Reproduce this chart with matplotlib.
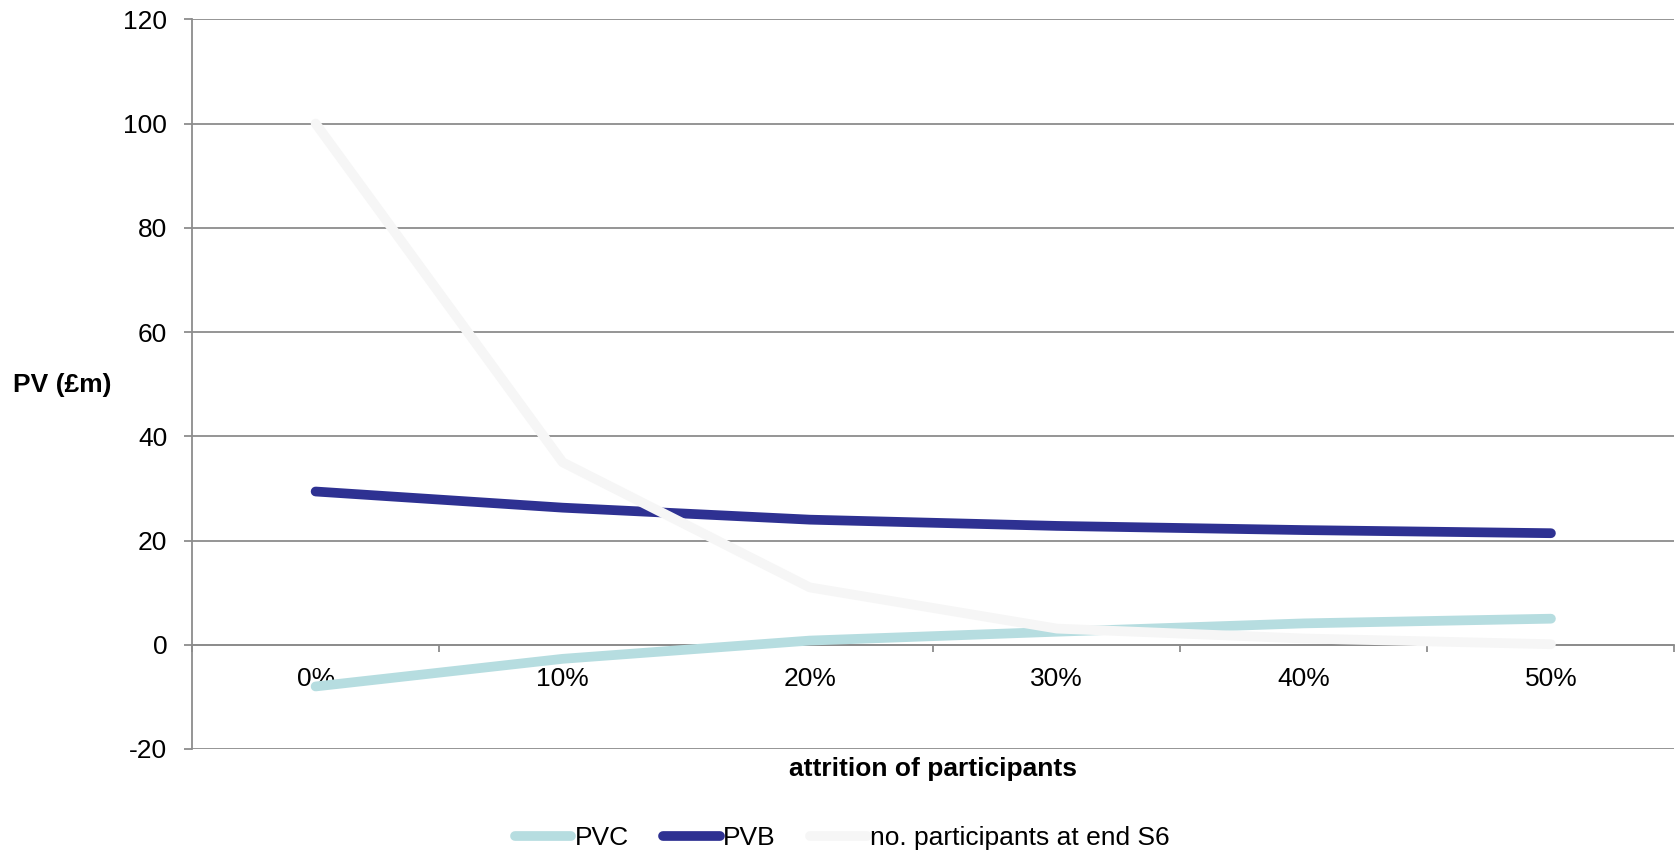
import numpy as np
import matplotlib
matplotlib.use("Agg")
import matplotlib.pyplot as plt

# Chart data
categories = ["0%", "10%", "20%", "30%", "40%", "50%"]
pvc = [-8.0, -2.7, 0.8, 2.5, 4.1, 5.0]
pvb = [29.4, 26.3, 24.0, 22.8, 22.0, 21.4]
participants = [100.0, 35.0, 11.0, 3.1, 1.2, 0.1]

plt.rcParams['font.family'] = ['Liberation Sans', 'DejaVu Sans']
plt.rcParams['axes.unicode_minus'] = False
fs = 19

fig = plt.figure(figsize=(16.79, 8.56), dpi=100)
ax = fig.add_axes([0.1144, 0.125, 0.9973 - 0.1144, 0.9775 - 0.125])

x = np.arange(len(categories))
style = dict(lw=7, solid_capstyle='round', solid_joinstyle='round', zorder=3)
ax.plot(x, pvc, color='#B6DDE0', label='PVC', **style)
ax.plot(x, pvb, color='#2E3192', label='PVB', **style)
ax.plot(x, participants, color='#F6F6F6', label='no. participants at end S6', **style)

ax.set_xlim(-0.5, len(categories) - 0.5)
ax.set_ylim(-20, 120)
ax.set_yticks(np.arange(-20, 121, 20))
ax.yaxis.grid(True, color='#8C8C8C', lw=1.3)
ax.set_axisbelow(True)

for s in ['top', 'right']:
    ax.spines[s].set_visible(False)
ax.spines['left'].set_color('#8C8C8C')
ax.spines['left'].set_linewidth(1.3)
ax.spines['bottom'].set_position(('data', 0))
ax.spines['bottom'].set_color('#8C8C8C')
ax.spines['bottom'].set_linewidth(1.3)

ax.set_xticks(x)
ax.set_xticklabels(categories)
ax.set_xticks(np.arange(-0.5, len(categories)), minor=True)
ax.tick_params(axis='x', which='major', length=0, pad=16, labelsize=fs)
ax.tick_params(axis='x', which='minor', length=5, direction='out', color='#8C8C8C', width=1.3)
ax.tick_params(axis='y', length=5.8, direction='out', color='#8C8C8C', width=1.3, pad=12, labelsize=fs)

fig.text(0.037, 1 - 385 / 856, "PV (£m)", fontsize=fs, fontweight='bold', ha='center', va='center')
fig.text(0.5556, 1 - 769 / 856, "attrition of participants", fontsize=fs, fontweight='bold',
         ha='center', va='center')

fig.legend(loc='center', bbox_to_anchor=(0.5015, 1 - 838 / 856), ncol=3, frameon=False,
           fontsize=fs, handlelength=2.15, handletextpad=0.12, columnspacing=1.3)

fig.savefig("out.png", dpi=100)
